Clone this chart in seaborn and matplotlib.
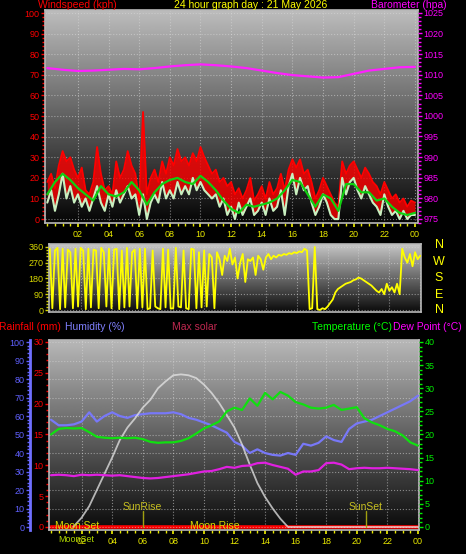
import numpy as np
import pandas as pd
import seaborn as sns
from matplotlib import pyplot as plt
import matplotlib.ticker as mticker

# wind (kph), one value every 15 minutes
gust = [18, 22, 15, 26, 33, 28, 30, 24, 20, 25, 14, 12, 18, 35, 22, 14,
        16, 12, 28, 20, 24, 33, 26, 22, 9, 52, 12, 20, 24, 18, 28, 22,
        30, 26, 34, 28, 30, 26, 32, 28, 35, 30, 26, 22, 24, 18, 20, 16,
        18, 12, 15, 10, 14, 20, 9, 12, 16, 10, 18, 12, 15, 22, 14, 24,
        29, 25, 29, 22, 24, 18, 10, 14, 20, 16, 12, 8, 6, 28, 22, 26,
        28, 24, 20, 25, 22, 18, 16, 12, 18, 14, 10, 12, 8, 10, 6, 9, 8]
speed = [8, 14, 4, 12, 22, 10, 16, 8, 12, 6, 10, 4, 10, 16, 8, 4,
         12, 6, 14, 8, 12, 16, 10, 12, 2, 12, 0, 8, 12, 8, 18, 10,
         14, 10, 18, 12, 16, 12, 20, 14, 18, 14, 12, 10, 12, 6, 10, 2,
         6, 0, 8, 2, 6, 10, 2, 4, 8, 2, 10, 4, 6, 14, 2, 16,
         22, 12, 20, 14, 16, 8, 2, 6, 12, 8, 2, 0, 0, 20, 12, 18,
         20, 14, 10, 16, 12, 8, 6, 2, 12, 6, 2, 4, 0, 4, 0, 2, 2]
# average wind, every 30 minutes
avg_wind = [12, 18, 22, 19, 15, 12, 9, 16, 12, 11, 13, 18, 14, 7, 13, 17, 19, 20,
            18, 17, 21, 18, 14, 9, 5, 3, 7, 6, 7, 8, 10, 14, 19, 18, 12, 6,
            12, 10, 4, 17, 17, 13, 13, 9, 10, 6, 3, 2, 3]
# barometer (hpa), hourly
baro = [1011.6, 1011.2, 1010.9, 1011.0, 1011.2, 1011.4, 1011.3, 1011.6, 1012.0,
        1012.3, 1012.5, 1012.3, 1012.0, 1011.6, 1011.0, 1010.4, 1009.9, 1009.6,
        1009.3, 1009.4, 1010.2, 1011.0, 1011.4, 1011.8, 1011.9]
# wind direction (deg), every 10 minutes
wind_dir = [350, 10, 340, 355, 5, 350,
            15, 345, 330, 10, 350, 20,
            355, 340, 5, 350, 15, 345,
            340, 10, 355, 330, 20, 350,
            10, 345, 350, 5, 340, 15,
            355, 20, 330, 345, 10, 350,
            15, 350, 5, 10, 340, 20,
            10, 5, 350, 15, 345, 8,
            10, 355, 20, 15, 340, 10,
            5, 350, 345, 10, 330, 15,
            340, 20, 320, 300, 10, 330,
            290, 200, 310, 280, 350, 260,
            300, 180, 270, 320, 160, 290,
            280, 300, 200, 310, 290, 230,
            300, 320, 290, 310, 300, 315,
            310, 320, 315, 325, 320, 330,
            325, 335, 330, 350, 340, 5,
            10, 360, 5, 0, 10, 5,
            20, 40, 60, 100, 120, 130,
            140, 150, 155, 160, 170, 175,
            185, 180, 170, 160, 150, 140,
            125, 110, 100, 120, 90, 150,
            110, 130, 100, 150, 90, 350,
            300, 270, 320, 250, 330, 290,
            310]
# every 30 minutes
temp = [20.0, 21.2, 21.4, 21.3, 21.4, 20.5, 19.5, 19.3, 19.2, 19.3,
        19.2, 19.3, 19.0, 18.4, 18.2, 18.3, 18.3, 18.6, 19.2, 20.2,
        21.3, 22.0, 22.8, 25.0, 25.8, 25.3, 27.8, 26.2, 29.0, 27.6,
        29.2, 28.4, 27.0, 26.5, 25.8, 25.6, 25.8, 26.4, 25.3, 25.6,
        25.9, 23.5, 22.6, 22.0, 21.2, 20.7, 19.8, 18.3, 17.6]
humidity = [58, 55, 55, 55.5, 57, 62, 57, 60, 62, 60,
            59, 60.5, 61, 61.5, 61.5, 61.5, 62, 61, 59, 58,
            56.5, 55, 53, 51, 46, 44, 40, 42, 40, 39,
            38.6, 40, 39, 45, 44, 45.5, 49, 47, 46, 53,
            56, 57, 58, 60, 62, 64, 66, 68, 71]
dew = [11.2, 11.3, 11.2, 11.0, 11.3, 11.2, 11.3, 11.2, 11.1, 11.2,
       11.0, 10.8, 10.6, 10.5, 10.6, 10.8, 11.0, 11.2, 11.4, 11.7,
       12.0, 12.1, 12.5, 13.0, 12.8, 13.2, 13.3, 13.8, 13.9, 13.4,
       13.0, 12.6, 11.3, 12.0, 12.0, 12.3, 13.8, 13.9, 13.5, 12.5,
       12.7, 12.8, 12.7, 12.7, 12.8, 12.7, 12.6, 12.5, 12.3]
solar_hours = [1.45] + list(np.arange(2, 15.6, 0.5)) + [24]
solar = [0, 2, 4.5, 8, 11.5, 15, 18.8, 21.5, 23.5, 25.8, 27.5, 30, 31.5, 32.8, 33,
         32.8, 32.2, 30.8, 29, 26.8, 24.2, 21.5, 17.8, 13.5, 9.5, 6.5, 4, 1.8, 0, 0]
rain_hours = [0, 24]
rain = [0, 0]
sunrise, sunset = 6.0, 20.6
moonset, moonrise = 0.25, 9.1
hour_labels = ['02', '04', '06', '08', '10', '12', '14', '16', '18', '20', '22', '00']

sns.set_theme(style='dark', rc={'figure.facecolor': 'black', 'axes.facecolor': 'black'})
plt.rcParams['font.family'] = ['Liberation Sans', 'DejaVu Sans']

W, H = 466, 554


def shade(ax, top, bottom):
    grad = np.linspace(top, bottom, 256).reshape(-1, 1)
    ax.imshow(grad, cmap='gray', vmin=0, vmax=1, extent=[0, 1, 0, 1],
              transform=ax.transAxes, aspect='auto', zorder=0)


def frame(ax):
    for s in ax.spines.values():
        s.set_color('#b8b8b8')
        s.set_linewidth(1.2)
    ax.grid(True, color='#d8d8d8', linestyle=':', linewidth=0.8, alpha=0.55)
    ax.set_xlabel('')
    ax.set_ylabel('')


def yaxis_style(ax, color, major, minor, side='left'):
    ax.yaxis.set_major_locator(mticker.MultipleLocator(major))
    ax.yaxis.set_minor_locator(mticker.MultipleLocator(minor))
    ax.tick_params(axis='y', which='both', colors=color, labelsize=6.5, direction='out', pad=1,
                   left=(side == 'left'), right=(side == 'right'),
                   labelleft=(side == 'left'), labelright=(side == 'right'))
    ax.tick_params(axis='y', which='major', length=3, width=1)
    ax.tick_params(axis='y', which='minor', length=2, width=1)
    ax.set_ylabel('')


def xaxis_style(ax, labels=True):
    ax.set_xticks(range(2, 25, 2))
    ax.set_xticklabels(hour_labels if labels else [])
    ax.xaxis.set_minor_locator(mticker.MultipleLocator(0.5))
    ax.tick_params(axis='x', which='both', colors='#e8e800', labelsize=6.5, direction='out', pad=2,
                   bottom=labels, length=3 if labels else 0)
    ax.tick_params(axis='x', which='minor', length=2 if labels else 0)


fig = plt.figure(figsize=(W / 100, H / 100), dpi=100)

# ---- wind / barometer ----
ax1 = fig.add_axes([45 / W, 1 - 223 / H, 373 / W, 213 / H])
shade(ax1, 0.74, 0.02)
t15 = np.arange(len(gust)) / 4
wind = pd.DataFrame({'hour': t15, 'gust': gust, 'speed': speed})
ax1.fill_between(wind['hour'], wind['speed'], wind['gust'], color='#ff0000', alpha=0.8, lw=0, zorder=2)
sns.lineplot(data=wind, x='hour', y='gust', color='#ff0000', lw=1.3, ax=ax1, zorder=3)
sns.lineplot(data=wind, x='hour', y='speed', color='#c8f0c0', lw=1.5, ax=ax1, zorder=4)
avg_df = pd.DataFrame({'hour': np.arange(len(avg_wind)) / 2, 'avg': avg_wind})
sns.lineplot(data=avg_df, x='hour', y='avg', color='#10d010', lw=1.6, ax=ax1, zorder=5)
ax1.set_xlim(-0.15, 24.2)
ax1.set_ylim(-1.9, 101.5)
frame(ax1)
xaxis_style(ax1)
yaxis_style(ax1, '#ff0000', 10, 2)

axb = ax1.twinx()
baro_df = pd.DataFrame({'hour': np.arange(len(baro)), 'baro': baro})
sns.lineplot(data=baro_df, x='hour', y='baro', color='#ff20ff', lw=1.6, ax=axb)
axb.set_ylim(974.0, 1025.7)
axb.set_xlim(-0.15, 24.2)
axb.grid(False)
for s in axb.spines.values():
    s.set_visible(False)
yaxis_style(axb, '#ff00ff', 5, 1, side='right')

# ---- wind direction ----
ax2 = fig.add_axes([49 / W, 1 - 312 / H, 372 / W, 68 / H])
shade(ax2, 0.78, 0.04)
dir_df = pd.DataFrame({'hour': np.arange(len(wind_dir)) / 6, 'dir': wind_dir})
sns.lineplot(data=dir_df, x='hour', y='dir', color='#ffff00', lw=1.3, ax=ax2, zorder=3)
ax2.set_xlim(-0.05, 24.05)
ax2.set_ylim(-11.4, 377)
frame(ax2)
xaxis_style(ax2, labels=False)
yaxis_style(ax2, '#d8d800', 90, 18)
for lab, ypix in zip(['N', 'W', 'S', 'E', 'N'], [245, 262, 278, 295, 310]):
    fig.text(439 / W, 1 - ypix / H, lab, color='#ffff00', fontsize=9, ha='center', va='center')

# ---- rain / humidity / temperature ----
ax3 = fig.add_axes([49 / W, 1 - 530 / H, 370 / W, 190 / H])
shade(ax3, 0.72, 0.04)
rain_df = pd.DataFrame({'hour': rain_hours, 'rain': rain})
sns.lineplot(data=rain_df, x='hour', y='rain', color='#ff0000', lw=2.6, ax=ax3)
ax3.set_xlim(-0.13, 24.07)
ax3.set_ylim(-0.49, 30.32)
frame(ax3)
ax3.grid(False)
ax3.grid(True, axis='x', color='#d8d8d8', linestyle=':', linewidth=0.8, alpha=0.55)
xaxis_style(ax3)
yaxis_style(ax3, '#ff0000', 5, 1)

axh = ax3.twinx()
axh.spines['left'].set_position(('axes', -19 / 370))
axh.spines['left'].set_visible(True)
axh.spines['left'].set_color('#7070ff')
axh.spines['left'].set_linewidth(2)
for side in ['right', 'top', 'bottom']:
    axh.spines[side].set_visible(False)
axh.yaxis.set_ticks_position('left')
hum_df = pd.DataFrame({'hour': np.arange(len(humidity)) / 2, 'hum': humidity})
sns.lineplot(data=hum_df, x='hour', y='hum', color='#7878f8', lw=1.6, ax=axh)
axh.set_ylim(-1.62, 101.1)
axh.set_xlim(-0.13, 24.07)
axh.grid(True, axis='y', color='#d8d8d8', linestyle=':', linewidth=0.8, alpha=0.55)
yaxis_style(axh, '#6060ff', 10, 2)

axt = ax3.twinx()
for s in axt.spines.values():
    s.set_visible(False)
th = pd.DataFrame({'hour': np.arange(len(temp)) / 2, 'temp': temp, 'dew': dew})
sol_df = pd.DataFrame({'hour': solar_hours, 'solar': solar})
sns.lineplot(data=sol_df, x='hour', y='solar', color='#e6e6e6', lw=1.3, alpha=0.75, ax=axt)
sns.lineplot(data=th, x='hour', y='dew', color='#e020e0', lw=1.6, ax=axt)
sns.lineplot(data=th, x='hour', y='temp', color='#10e010', lw=1.6, ax=axt)
axt.set_ylim(-0.65, 40.43)
axt.set_xlim(-0.13, 24.07)
axt.grid(False)
yaxis_style(axt, '#00ee00', 5, 1, side='right')

sun_col = '#c8c020'
for hr, name in [(sunrise, 'SunRise'), (sunset, 'SunSet')]:
    axt.plot([hr, hr], [0, 3.4], color='#a0a010', lw=1)
    axt.text(hr, 4.4, name, color=sun_col, fontsize=7.5, ha='center', va='center')
axt.text(moonset, 0.2, 'Moon Set', color='#d8d800', fontsize=7.5, ha='left', va='center')
axt.text(moonrise, 0.2, 'Moon Rise', color='#d8d800', fontsize=7.5, ha='left', va='center')
fig.text(58 / W, 1 - 540 / H, 'MoonSet', color='#b0d800', fontsize=6.5, ha='left', va='center')

# ---- headings ----
ty = 1 - 5 / H
fig.text(77 / W, ty, 'Windspeed (kph)', color='#ff0000', fontsize=7.5, ha='center', va='center')
fig.text(251 / W, ty, '24 hour graph day : 21 May 2026', color='#ffff00', fontsize=7.5, ha='center', va='center')
fig.text(409 / W, ty, 'Barometer (hpa)', color='#ff00ff', fontsize=7.5, ha='center', va='center')
by = 1 - 327 / H
fig.text(30 / W, by, 'Rainfall (mm)', color='#ff0000', fontsize=7.5, ha='center', va='center')
fig.text(95 / W, by, 'Humidity (%)', color='#8080ff', fontsize=7.5, ha='center', va='center')
fig.text(195 / W, by, 'Max solar', color='#c02850', fontsize=7.5, ha='center', va='center')
fig.text(352 / W, by, 'Temperature (\u00b0C)', color='#00ff00', fontsize=7.5, ha='center', va='center')
fig.text(427 / W, by, 'Dew Point (\u00b0C)', color='#ff00ff', fontsize=7.5, ha='center', va='center')

fig.savefig('out.png', dpi=100, facecolor='black')
